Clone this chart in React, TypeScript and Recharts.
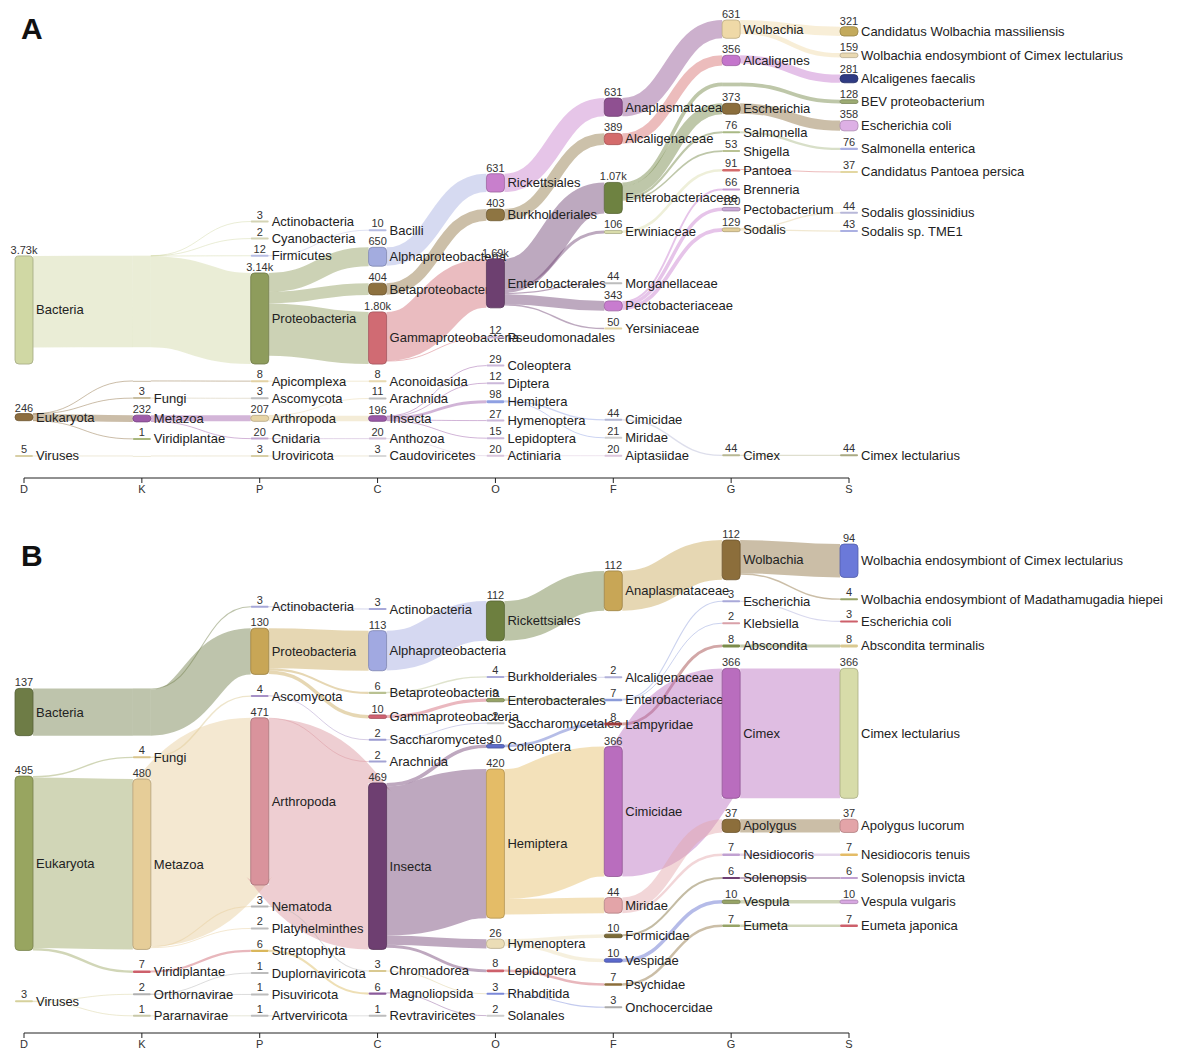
import React from 'react';
import { Sankey, LineChart, XAxis } from 'recharts';

// ---------------- data ----------------
const RANKS = ['D', 'K', 'P', 'C', 'O', 'F', 'G', 'S'];
const AXIS_DATA = RANKS.map((rank) => ({ rank }));

// taxonomy report order (depth-first): [rank, name, reads]
type Taxon = [string, string, number];

const TAXA_A: Taxon[] = [
  ['D', 'Bacteria', 3730],
  ['P', 'Actinobacteria', 3],
  ['P', 'Cyanobacteria', 2],
  ['P', 'Firmicutes', 12],
  ['C', 'Bacilli', 10],
  ['P', 'Proteobacteria', 3140],
  ['C', 'Alphaproteobacteria', 650],
  ['O', 'Rickettsiales', 631],
  ['F', 'Anaplasmataceae', 631],
  ['G', 'Wolbachia', 631],
  ['S', 'Candidatus Wolbachia massiliensis', 321],
  ['S', 'Wolbachia endosymbiont of Cimex lectularius', 159],
  ['C', 'Betaproteobacteria', 404],
  ['O', 'Burkholderiales', 403],
  ['F', 'Alcaligenaceae', 389],
  ['G', 'Alcaligenes', 356],
  ['S', 'Alcaligenes faecalis', 281],
  ['C', 'Gammaproteobacteria', 1800],
  ['O', 'Enterobacterales', 1690],
  ['F', 'Enterobacteriaceae', 1070],
  ['S', 'BEV proteobacterium', 128],
  ['G', 'Escherichia', 373],
  ['S', 'Escherichia coli', 358],
  ['G', 'Salmonella', 76],
  ['S', 'Salmonella enterica', 76],
  ['G', 'Shigella', 53],
  ['F', 'Erwiniaceae', 106],
  ['G', 'Pantoea', 91],
  ['S', 'Candidatus Pantoea persica', 37],
  ['F', 'Morganellaceae', 44],
  ['F', 'Pectobacteriaceae', 343],
  ['G', 'Brenneria', 66],
  ['G', 'Pectobacterium', 120],
  ['G', 'Sodalis', 129],
  ['S', 'Sodalis glossinidius', 44],
  ['S', 'Sodalis sp. TME1', 43],
  ['F', 'Yersiniaceae', 50],
  ['O', 'Pseudomonadales', 12],
  ['D', 'Eukaryota', 246],
  ['P', 'Apicomplexa', 8],
  ['C', 'Aconoidasida', 8],
  ['K', 'Fungi', 3],
  ['P', 'Ascomycota', 3],
  ['K', 'Metazoa', 232],
  ['P', 'Arthropoda', 207],
  ['C', 'Arachnida', 11],
  ['C', 'Insecta', 196],
  ['O', 'Coleoptera', 29],
  ['O', 'Diptera', 12],
  ['O', 'Hemiptera', 98],
  ['F', 'Cimicidae', 44],
  ['G', 'Cimex', 44],
  ['S', 'Cimex lectularius', 44],
  ['F', 'Miridae', 21],
  ['O', 'Hymenoptera', 27],
  ['O', 'Lepidoptera', 15],
  ['P', 'Cnidaria', 20],
  ['C', 'Anthozoa', 20],
  ['O', 'Actiniaria', 20],
  ['F', 'Aiptasiidae', 20],
  ['K', 'Viridiplantae', 1],
  ['D', 'Viruses', 5],
  ['P', 'Uroviricota', 3],
  ['C', 'Caudoviricetes', 3],
];

const TAXA_B: Taxon[] = [
  ['D', 'Bacteria', 137],
  ['P', 'Actinobacteria', 3],
  ['C', 'Actinobacteria', 3],
  ['P', 'Proteobacteria', 130],
  ['C', 'Alphaproteobacteria', 113],
  ['O', 'Rickettsiales', 112],
  ['F', 'Anaplasmataceae', 112],
  ['G', 'Wolbachia', 112],
  ['S', 'Wolbachia endosymbiont of Cimex lectularius', 94],
  ['S', 'Wolbachia endosymbiont of Madathamugadia hiepei', 4],
  ['C', 'Betaproteobacteria', 6],
  ['O', 'Burkholderiales', 4],
  ['F', 'Alcaligenaceae', 2],
  ['C', 'Gammaproteobacteria', 10],
  ['O', 'Enterobacterales', 9],
  ['F', 'Enterobacteriaceae', 7],
  ['G', 'Escherichia', 3],
  ['S', 'Escherichia coli', 3],
  ['G', 'Klebsiella', 2],
  ['D', 'Eukaryota', 495],
  ['K', 'Fungi', 4],
  ['P', 'Ascomycota', 4],
  ['C', 'Saccharomycetes', 2],
  ['O', 'Saccharomycetales', 2],
  ['K', 'Metazoa', 480],
  ['P', 'Arthropoda', 471],
  ['C', 'Arachnida', 2],
  ['C', 'Insecta', 469],
  ['O', 'Coleoptera', 10],
  ['F', 'Lampyridae', 8],
  ['G', 'Abscondita', 8],
  ['S', 'Abscondita terminalis', 8],
  ['O', 'Hemiptera', 420],
  ['F', 'Cimicidae', 366],
  ['G', 'Cimex', 366],
  ['S', 'Cimex lectularius', 366],
  ['F', 'Miridae', 44],
  ['G', 'Apolygus', 37],
  ['S', 'Apolygus lucorum', 37],
  ['G', 'Nesidiocoris', 7],
  ['S', 'Nesidiocoris tenuis', 7],
  ['O', 'Hymenoptera', 26],
  ['F', 'Formicidae', 10],
  ['G', 'Solenopsis', 6],
  ['S', 'Solenopsis invicta', 6],
  ['F', 'Vespidae', 10],
  ['G', 'Vespula', 10],
  ['S', 'Vespula vulgaris', 10],
  ['O', 'Lepidoptera', 8],
  ['F', 'Psychidae', 7],
  ['G', 'Eumeta', 7],
  ['S', 'Eumeta japonica', 7],
  ['P', 'Nematoda', 3],
  ['C', 'Chromadorea', 3],
  ['O', 'Rhabditida', 3],
  ['F', 'Onchocercidae', 3],
  ['P', 'Platyhelminthes', 2],
  ['K', 'Viridiplantae', 7],
  ['P', 'Streptophyta', 6],
  ['C', 'Magnoliopsida', 6],
  ['O', 'Solanales', 2],
  ['D', 'Viruses', 3],
  ['K', 'Orthornavirae', 2],
  ['P', 'Duplornaviricota', 1],
  ['P', 'Pisuviricota', 1],
  ['K', 'Pararnavirae', 1],
  ['P', 'Artverviricota', 1],
  ['C', 'Revtraviricetes', 1],
];

// ---------------- styles ----------------
const COLORS_A: Record<string, string> = {
  Bacteria: '#d0d8a4', Eukaryota: '#8c6d3f', Viruses: '#d8cfa6',
  Actinobacteria: '#d4d4b4', Cyanobacteria: '#d4d4b4', Firmicutes: '#b7bde3', Proteobacteria: '#8e9c5c',
  Apicomplexa: '#e3d2a4', Fungi: '#c9bfa2', Ascomycota: '#bfbfbf', Metazoa: '#9d5aa8', Arthropoda: '#e6d4a6',
  Cnidaria: '#c2a5cf', Viridiplantae: '#a9b77e', Uroviricota: '#d8cfa6',
  Bacilli: '#b7bde3', Alphaproteobacteria: '#a3acdf', Betaproteobacteria: '#8d713f', Gammaproteobacteria: '#d06b73',
  Aconoidasida: '#e8d9b0', Arachnida: '#bdbdbd', Insecta: '#9a58a7', Anthozoa: '#d3c0da', Caudoviricetes: '#d8d8d8',
  Rickettsiales: '#c87fcc', Burkholderiales: '#8e7542', Enterobacterales: '#6d4070', Pseudomonadales: '#cdb7d6',
  Coleoptera: '#cbb8da', Diptera: '#cbb8da', Hemiptera: '#8fa0e2', Hymenoptera: '#cbb8da', Lepidoptera: '#cbb8da',
  Actiniaria: '#d9c5dc',
  Anaplasmataceae: '#8f5091', Alcaligenaceae: '#d46b6b', Enterobacteriaceae: '#6e8241', Erwiniaceae: '#d9dcab',
  Morganellaceae: '#bdbdbd', Pectobacteriaceae: '#c87ccf', Yersiniaceae: '#e2d4a2', Cimicidae: '#b3b6d3',
  Miridae: '#cfcfcf', Aiptasiidae: '#dcc6dc',
  Wolbachia: '#efd9a7', Alcaligenes: '#c475cc', Escherichia: '#8b6e3d', Salmonella: '#a9b985', Shigella: '#b9c293',
  Pantoea: '#d46a6a', Brenneria: '#c89bd1', Pectobacterium: '#c9a8d7', Sodalis: '#e1cd98', Cimex: '#b8b894',
  'Candidatus Wolbachia massiliensis': '#c3aa5c', 'Wolbachia endosymbiont of Cimex lectularius': '#e9d9b2',
  'Alcaligenes faecalis': '#2f3b83', 'BEV proteobacterium': '#9cab72', 'Escherichia coli': '#ddb0e5',
  'Salmonella enterica': '#abb0e2', 'Candidatus Pantoea persica': '#e3d7a2', 'Sodalis glossinidius': '#b8b8d9',
  'Sodalis sp. TME1': '#abb0e2', 'Cimex lectularius': '#a9a982',
};

const COLORS_B: Record<string, string> = {
  Bacteria: '#6e7c46', Eukaryota: '#98a560', Viruses: '#d6d19c',
  Actinobacteria: '#a7a8d8', Proteobacteria: '#c8a656', Fungi: '#d9c58c', Ascomycota: '#a690c6',
  Saccharomycetes: '#9b9bd1', Saccharomycetales: '#c9c9c9', Metazoa: '#e6cd98', Arthropoda: '#d9939c',
  Arachnida: '#a3a3d3', Insecta: '#6e3f71', Coleoptera: '#5d6cc9', Lampyridae: '#9b3b3b', Abscondita: '#7b8b49',
  'Abscondita terminalis': '#d9c991', Hemiptera: '#e4bc67', Cimicidae: '#b96dbe', Cimex: '#b96dbe',
  'Cimex lectularius': '#d7dca9', Miridae: '#e3a4a8', Apolygus: '#8c6e3b', 'Apolygus lucorum': '#e3a4a8',
  Nesidiocoris: '#c1a1d1', 'Nesidiocoris tenuis': '#e4bc67', Hymenoptera: '#ebddb6', Formicidae: '#7c6b36',
  Solenopsis: '#6e3f71', 'Solenopsis invicta': '#c1a1d1', Vespidae: '#5b69cd', Vespula: '#96a366',
  'Vespula vulgaris': '#d7a7e1', Lepidoptera: '#cd606b', Psychidae: '#8c6e3b', Eumeta: '#96a366',
  'Eumeta japonica': '#cd606b', Nematoda: '#b6b6b6', Chromadorea: '#d9c991', Rhabditida: '#7b89d9',
  Onchocercidae: '#ababab', Platyhelminthes: '#bdbdbd', Viridiplantae: '#cd606b', Streptophyta: '#dab75b',
  Magnoliopsida: '#8b5b9b', Solanales: '#cdcdcd', Orthornavirae: '#b1b1b1', Pararnavirae: '#c9c9a9',
  Duplornaviricota: '#bcbcbc', Pisuviricota: '#bcbcbc', Artverviricota: '#bcbcbc', Revtraviricetes: '#bcbcbc',
  Alphaproteobacteria: '#a1a9e1', Betaproteobacteria: '#b9c191', Gammaproteobacteria: '#d06171',
  Rickettsiales: '#6d7f3f', Anaplasmataceae: '#c8a656', Wolbachia: '#8c6e3b',
  'Wolbachia endosymbiont of Cimex lectularius': '#6b79d9',
  'Wolbachia endosymbiont of Madathamugadia hiepei': '#96a366',
  Burkholderiales: '#a9a9d9', Alcaligenaceae: '#b1b1d9', Enterobacterales: '#96a366',
  Enterobacteriaceae: '#8b9bd9', Escherichia: '#a9a9d9', 'Escherichia coli': '#cd606b', Klebsiella: '#d9a1a9',
};

const FONT = '"Liberation Sans", Arial, Helvetica, sans-serif';
const NODE_WIDTH = 18;
const LINK_OPACITY = 0.45;
const REST_MIN = 50;
const ITERATIONS = 400;

// layout: vertical scale (px per read), node padding, and where the invisible layout anchors sit
type Layout = {
  top: number; height: number;
  margin: { top: number; right: number; bottom: number; left: number };
  padding: number; pxPerRead: number; anchorAfter: string; anchorFrom: string;
};
const LAYOUT_A: Layout = {
  top: 0, height: 470, margin: { top: 20, right: 324, bottom: 14, left: 15 },
  padding: 17, pxPerRead: 0.029, anchorAfter: 'Sodalis sp. TME1', anchorFrom: 'Cimicidae',
};
const LAYOUT_B: Layout = {
  top: 515, height: 510, margin: { top: 25, right: 324, bottom: 9, left: 15 },
  padding: 21, pxPerRead: 0.355, anchorAfter: 'Eumeta japonica', anchorFrom: 'Psychidae',
};

// ---------------- build sankey structure ----------------
function buildSankey(taxa: Taxon[], colors: Record<string, string>, layout: Layout) {
  type Item = { name: string; reads: number; depth: number; idx: number; parent: number; children: number[]; last: number };
  const items: Item[] = taxa.map(([rank, name, reads], idx) => ({
    name, reads, depth: RANKS.indexOf(rank), idx, parent: -1, children: [], last: idx,
  }));
  const stack: number[] = [];
  for (const it of items) {
    while (stack.length && items[stack[stack.length - 1]].depth >= it.depth) stack.pop();
    if (stack.length) {
      it.parent = stack[stack.length - 1];
      items[it.parent].children.push(it.idx);
    }
    stack.push(it.idx);
  }
  for (let i = items.length - 1; i >= 0; i--) {
    const p = items[i].parent;
    if (p >= 0) items[p].last = Math.max(items[p].last, items[i].last);
  }

  const nodes: any[] = [];
  const raw: { s: number; t: number; value: number }[] = [];
  const taxonNode: number[] = [];
  for (const it of items) {
    taxonNode[it.idx] = nodes.length;
    nodes.push({ name: it.name, reads: it.reads, kind: 'taxon', col: it.depth, ord: it.idx, color: colors[it.name] || '#c8c8c8' });
  }
  for (const p of items) {
    const kids = p.children.map((c) => items[c]);
    const childSum = kids.reduce((a, k) => a + k.reads, 0);
    let rest = p.parent < 0 && p.reads - childSum >= REST_MIN ? p.reads - childSum : 0;
    let prev = taxonNode[p.idx];
    const maxD = Math.max(p.depth, ...kids.map((k) => k.depth));
    for (let d = p.depth + 1; d <= maxD; d++) {
      kids.filter((k) => k.depth === d).forEach((k) => raw.push({ s: prev, t: taxonNode[k.idx], value: k.reads }));
      const deeper = kids.filter((k) => k.depth > d);
      if (!deeper.length) break;
      const id = nodes.length;
      const shown = deeper.reduce((a, k) => a + k.reads, 0);
      // reads of a root not assigned further ride along into its first pass-through node (drawn empty)
      const full = shown + rest;
      nodes.push({ name: '', kind: 'pass', col: d, ord: deeper[0].idx, color: colors[p.name] || '#c8c8c8', shown, full });
      raw.push({ s: prev, t: id, value: full });
      rest = 0;
      prev = id;
    }
    if (rest > 0) {
      const id = nodes.length;
      nodes.push({ name: '', kind: 'rest', col: p.depth + 1, ord: p.last + 0.5, color: 'none' });
      raw.push({ s: taxonNode[p.idx], t: id, value: rest });
    }
  }

  // invisible anchors fixing the px-per-read scale: one at the top of the first two columns,
  // one in the genus/species columns
  const H = layout.height - layout.margin.top - layout.margin.bottom;
  const fillValue = (col: number) => {
    const inSum = nodes.map(() => 0);
    const outSum = nodes.map(() => 0);
    raw.forEach((l) => { outSum[l.s] += l.value; inSum[l.t] += l.value; });
    let n = 0;
    let sum = 0;
    nodes.forEach((nd, i) => { if (nd.col === col) { n += 1; sum += Math.max(inSum[i], outSum[i]); } });
    return Math.max((H - n * layout.padding) / layout.pxPerRead - sum, 1);
  };
  const vTop = fillValue(1);
  const vRight = fillValue(6);
  const afterIdx = items.find((it) => it.name === layout.anchorAfter)!.idx + 0.5;
  const fromItem = items.find((it) => it.name === layout.anchorFrom)!;
  const a0 = nodes.length; nodes.push({ name: '', kind: 'anchor', col: 0, ord: -1, color: 'none' });
  const a1 = nodes.length; nodes.push({ name: '', kind: 'anchor', col: 1, ord: -1, color: 'none' });
  const a6 = nodes.length; nodes.push({ name: '', kind: 'anchor', col: 6, ord: afterIdx, color: 'none' });
  const a7 = nodes.length; nodes.push({ name: '', kind: 'anchor', col: 7, ord: afterIdx, color: 'none' });
  raw.push({ s: a0, t: a1, value: vTop });
  raw.push({ s: taxonNode[fromItem.idx], t: a6, value: 0.001 });
  raw.push({ s: a6, t: a7, value: vRight });

  const order = nodes.map((_, i) => i).sort((a, b) => nodes[a].col - nodes[b].col || nodes[a].ord - nodes[b].ord);
  const newIndex: number[] = [];
  order.forEach((old, ni) => { newIndex[old] = ni; });
  return {
    nodes: order.map((i) => nodes[i]),
    links: raw.map((l) => ({ source: newIndex[l.s], target: newIndex[l.t], value: l.value })),
  };
}

const DATA_A = buildSankey(TAXA_A, COLORS_A, LAYOUT_A);
const DATA_B = buildSankey(TAXA_B, COLORS_B, LAYOUT_B);

// ---------------- rendering ----------------
function darken(hex: string, f = 0.78) {
  const h = hex.replace('#', '');
  const r = Math.round(parseInt(h.slice(0, 2), 16) * f);
  const g = Math.round(parseInt(h.slice(2, 4), 16) * f);
  const b = Math.round(parseInt(h.slice(4, 6), 16) * f);
  return `rgb(${r},${g},${b})`;
}

function fmt(v: number) {
  return v >= 1000 ? `${(v / 1000).toFixed(2)}k` : String(v);
}

const SankeyNode = (props: any) => {
  const { x, y, width, height, payload } = props;
  const kind = payload.kind;
  if (kind === 'anchor' || kind === 'rest') return <g />;
  if (kind === 'pass') {
    const frac = payload.full ? payload.shown / payload.full : 1;
    return <rect x={x} y={y} width={width} height={Math.max(height * frac, 1)} fill={payload.color} fillOpacity={LINK_OPACITY} />;
  }
  const h = Math.max(height, 2);
  const cy = y + height / 2;
  const top = cy - h / 2;
  return (
    <g>
      <rect x={x} y={top} width={width} height={h} rx={Math.min(4, h / 2)} ry={Math.min(4, h / 2)}
        fill={payload.color} stroke={darken(payload.color)} strokeWidth={h > 3 ? 0.8 : 0} />
      <text x={x + width / 2} y={top - 2} textAnchor="middle" fontSize={11} fill="#333" fontFamily={FONT}>
        {fmt(payload.reads)}
      </text>
      <text x={x + width + 3} y={cy} dominantBaseline="central" fontSize={13} fill="#222" fontFamily={FONT}>
        {payload.name}
      </text>
    </g>
  );
};

const SankeyLink = (props: any) => {
  const { sourceX, targetX, sourceControlX, targetControlX, linkWidth, payload } = props;
  let { sourceY, targetY } = props;
  const s = payload.source;
  const t = payload.target;
  if (s.kind === 'anchor' || t.kind === 'anchor' || t.kind === 'rest') return <g />;
  let w = linkWidth;
  if (t.kind === 'pass' && t.full > t.shown) {
    // only the part of the band that continues onward is drawn
    w = (linkWidth * t.shown) / t.full;
    sourceY = sourceY - linkWidth / 2 + w / 2;
    targetY = targetY - linkWidth / 2 + w / 2;
  }
  return (
    <path
      d={`M${sourceX},${sourceY}C${sourceControlX},${sourceY} ${targetControlX},${targetY} ${targetX},${targetY}`}
      fill="none"
      stroke={s.color}
      strokeOpacity={LINK_OPACITY}
      strokeWidth={Math.max(w, 1)}
    />
  );
};

const Panel = ({ data, layout, letter }: { data: any; layout: Layout; letter: string }) => {
  const W = 1182;
  const firstTick = layout.margin.left + NODE_WIDTH / 2;
  const lastTick = W - layout.margin.right - NODE_WIDTH / 2;
  return (
    <>
      <div style={{ position: 'absolute', left: 0, top: layout.top }}>
        <Sankey
          width={W}
          height={layout.height}
          data={data}
          margin={layout.margin}
          nodeWidth={NODE_WIDTH}
          nodePadding={layout.padding}
          iterations={ITERATIONS}
          sort={false}
          {...({ align: 'left' } as any)}
          node={(p: any) => <SankeyNode {...p} />}
          link={(p: any) => <SankeyLink {...p} />}
        />
      </div>
      <div style={{ position: 'absolute', left: 0, top: layout.top + layout.height - 2 }}>
        <LineChart width={W} height={40} data={AXIS_DATA} margin={{ top: 0, right: W - lastTick, bottom: 0, left: firstTick }}>
          <XAxis
            dataKey="rank"
            scale="point"
            padding={{ left: 0, right: 0 }}
            interval={0}
            height={30}
            axisLine={{ stroke: '#222' }}
            tickLine={{ stroke: '#222' }}
            tickSize={5}
            tick={{ fontSize: 11, fill: '#333', fontFamily: FONT }}
          />
        </LineChart>
      </div>
      <div
        style={{
          position: 'absolute', left: 21, top: layout.top + (letter === 'A' ? 14 : 26),
          fontFamily: '"Liberation Sans Narrow", "Arial Narrow", "Liberation Sans", Arial, sans-serif',
          fontWeight: 700, fontSize: 30, lineHeight: '30px', color: '#111',
        }}
      >
        {letter}
      </div>
    </>
  );
};

export default function App() {
  return (
    <div style={{ position: 'relative', width: 1182, height: 1055, overflow: 'hidden', background: '#fff' }}>
      <style>{'body{margin:0;}'}</style>
      <Panel data={DATA_A} layout={LAYOUT_A} letter="A" />
      <Panel data={DATA_B} layout={LAYOUT_B} letter="B" />
    </div>
  );
}
